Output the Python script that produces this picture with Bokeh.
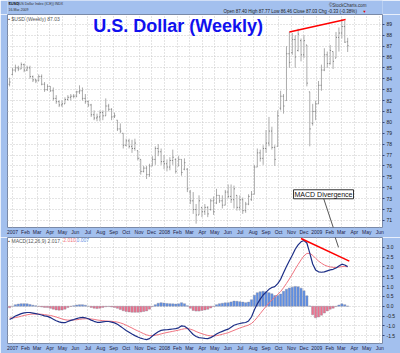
import pandas as pd
from bokeh.plotting import figure
from bokeh.layouts import column
from bokeh.models import Range1d, FixedTicker, CustomJSTickFormatter, Label, PrintfTickFormatter
from bokeh.embed import file_html
from bokeh.resources import INLINE

# ------------------------------------------------------------------ data
first_week = "2006-12-25"   # weekly bars, one per week

opens = [83.5, 84.4, 84.8, 85.0, 84.9, 85.3, 84.8, 85.0, 84.2, 83.9,
         83.8, 84.2, 83.5, 83.0, 83.3, 82.9, 82.2, 81.9, 81.6, 81.7,
         82.1, 82.3, 82.4, 82.4, 82.8, 82.9, 82.2, 81.9, 81.6, 80.7,
         80.4, 80.5, 80.9, 80.6, 81.5, 81.2, 80.5, 80.2, 79.4, 79.0,
         77.9, 78.3, 77.8, 77.6, 77.4, 76.6, 75.5, 75.8, 75.2, 76.0,
         76.6, 77.6, 77.3, 76.4, 76.2, 75.9, 76.5, 76.6, 76.0, 76.6,
         75.7, 75.7, 73.6, 72.8, 72.0, 71.5, 72.2, 71.8, 72.2, 72.0,
         72.8, 72.6, 73.3, 72.8, 72.4, 73.6, 73.2, 72.9, 73.3, 72.2,
         72.9, 71.9, 72.5, 72.9, 73.4, 75.9, 77.2, 76.7, 77.6, 78.1,
         79.2, 77.7, 77.8, 81.3, 82.4, 82.0, 86.3, 86.4, 87.6, 86.6,
         87.5, 86.2, 87.1, 82.8, 79.9, 81.0, 81.7, 83.4, 84.8, 86.2,
         85.4, 86.5, 85.9, 87.8, 88.2, 88.8, 87.40]
highs = [84.1, 85.0, 85.3, 85.2, 85.5, 85.4, 85.2, 85.2, 84.3, 84.0,
         84.4, 84.4, 83.7, 83.5, 83.3, 83.2, 82.5, 82.0, 82.0, 82.3,
         82.5, 82.6, 82.6, 82.9, 83.4, 83.2, 82.6, 82.0, 81.7, 81.1,
         80.8, 81.1, 81.1, 82.2, 81.7, 81.3, 80.9, 80.2, 79.9, 79.0,
         78.5, 78.5, 78.4, 78.5, 77.4, 76.6, 76.0, 76.0, 76.2, 76.9,
         77.8, 78.0, 77.6, 77.0, 76.6, 76.8, 77.5, 76.7, 76.9, 76.6,
         76.7, 75.8, 73.8, 73.6, 72.5, 73.3, 72.2, 72.5, 72.3, 73.0,
         73.2, 73.9, 73.3, 73.3, 73.8, 74.3, 74.3, 74.2, 73.3, 73.3,
         73.1, 72.7, 73.4, 73.7, 76.1, 77.6, 77.5, 77.9, 79.3, 80.5,
         79.6, 77.9, 81.1, 82.9, 82.6, 87.0, 88.3, 88.2, 88.0, 88.6,
         87.7, 88.0, 87.1, 82.8, 81.7, 82.0, 83.8, 85.3, 86.8, 86.5,
         87.1, 86.5, 88.3, 88.7, 89.5, 89.3, 87.77]
lows = [83.3, 84.3, 84.6, 84.7, 84.9, 84.6, 84.7, 84.0, 83.7, 83.6,
        83.8, 83.4, 82.8, 82.9, 82.8, 82.0, 81.7, 81.4, 81.4, 81.7,
        82.0, 82.0, 82.2, 82.3, 82.6, 82.0, 81.7, 81.4, 80.5, 80.2,
        80.1, 80.1, 80.2, 80.6, 81.0, 80.2, 80.4, 79.2, 79.0, 77.6,
        77.8, 77.6, 77.2, 77.4, 76.5, 75.2, 75.4, 74.8, 75.0, 76.0,
        76.1, 76.9, 76.1, 75.7, 75.5, 75.6, 76.1, 75.3, 76.0, 75.1,
        75.6, 73.6, 72.5, 71.6, 70.7, 71.5, 71.3, 71.5, 71.3, 71.9,
        71.5, 72.5, 72.6, 72.1, 72.4, 73.0, 72.6, 72.1, 71.9, 71.9,
        71.6, 71.7, 72.4, 72.8, 73.4, 75.9, 76.4, 76.1, 77.2, 77.8,
        77.5, 76.0, 77.8, 81.1, 80.8, 82.0, 85.0, 86.2, 85.0, 86.5,
        85.6, 85.9, 83.3, 77.8, 79.7, 80.2, 81.7, 82.9, 84.7, 85.0,
        85.3, 84.9, 85.9, 86.5, 87.7, 87.3, 86.46]
closes = [83.7, 84.8, 85.0, 84.9, 85.3, 84.8, 85.0, 84.2, 83.9, 83.8,
          84.2, 83.5, 83.0, 83.3, 82.9, 82.2, 81.9, 81.6, 81.7, 82.1,
          82.3, 82.4, 82.4, 82.8, 82.9, 82.2, 81.9, 81.6, 80.7, 80.4,
          80.5, 80.9, 80.6, 81.5, 81.2, 80.5, 80.6, 79.4, 79.2, 77.9,
          78.3, 77.8, 77.6, 78.1, 76.7, 75.5, 75.8, 75.2, 76.0, 76.6,
          77.6, 77.3, 76.4, 76.2, 75.9, 76.5, 76.8, 75.5, 76.6, 75.4,
          76.3, 73.9, 72.8, 72.0, 71.5, 72.8, 71.8, 72.2, 71.6, 72.8,
          71.8, 73.3, 72.8, 72.4, 73.6, 73.2, 72.9, 73.9, 72.2, 72.9,
          71.9, 72.5, 73.2, 73.4, 75.9, 77.2, 76.7, 77.6, 78.1, 79.2,
          77.7, 76.6, 80.6, 82.4, 81.5, 86.3, 85.5, 87.6, 86.0, 88.1,
          86.2, 87.5, 83.6, 79.4, 81.0, 81.7, 83.4, 84.8, 86.2, 85.4,
          86.6, 85.6, 87.8, 88.2, 88.8, 87.36, 87.03]

macd = [-0.68, -0.60, -0.50, -0.44, -0.38, -0.34, -0.32, -0.32, -0.35, -0.38,
        -0.41, -0.45, -0.49, -0.52, -0.58, -0.66, -0.74, -0.80, -0.84, -0.84,
        -0.78, -0.72, -0.68, -0.63, -0.59, -0.57, -0.59, -0.64, -0.71, -0.77,
        -0.82, -0.82, -0.80, -0.78, -0.78, -0.81, -0.85, -0.92, -1.02, -1.13,
        -1.24, -1.33, -1.42, -1.50, -1.57, -1.63, -1.67, -1.70, -1.65, -1.52,
        -1.40, -1.30, -1.23, -1.21, -1.20, -1.18, -1.16, -1.14, -1.10, -1.00,
        -1.02, -1.12, -1.28, -1.44, -1.54, -1.60, -1.62, -1.64, -1.65, -1.60,
        -1.52, -1.42, -1.34, -1.28, -1.22, -1.17, -1.07, -0.97, -0.92, -0.88,
        -0.85, -0.83, -0.75, -0.55, -0.18, 0.12, 0.36, 0.57, 0.72, 0.86,
        0.95, 1.00, 1.15, 1.37, 1.70, 2.02, 2.32, 2.60, 2.90, 3.12,
        3.28, 3.35, 3.22, 2.70, 2.15, 1.85, 1.75, 1.73, 1.75, 1.80,
        1.85, 1.88, 1.95, 2.05, 2.14, 2.10, 2.017]
signal = [-0.60, -0.60, -0.58, -0.55, -0.51, -0.47, -0.44, -0.41, -0.40, -0.40,
          -0.40, -0.41, -0.43, -0.45, -0.47, -0.51, -0.55, -0.60, -0.65, -0.69,
          -0.71, -0.71, -0.70, -0.69, -0.67, -0.65, -0.64, -0.64, -0.65, -0.67,
          -0.70, -0.72, -0.74, -0.75, -0.76, -0.77, -0.79, -0.81, -0.85, -0.90,
          -0.97, -1.04, -1.11, -1.19, -1.26, -1.33, -1.40, -1.46, -1.50, -1.50,
          -1.48, -1.45, -1.41, -1.37, -1.34, -1.31, -1.28, -1.25, -1.22, -1.18,
          -1.15, -1.14, -1.17, -1.22, -1.29, -1.35, -1.40, -1.45, -1.49, -1.51,
          -1.51, -1.50, -1.47, -1.43, -1.39, -1.35, -1.29, -1.23, -1.17, -1.11,
          -1.06, -1.01, -0.96, -0.88, -0.74, -0.57, -0.38, -0.19, -0.01, 0.17,
          0.32, 0.46, 0.60, 0.75, 0.94, 1.16, 1.39, 1.63, 1.89, 2.13,
          2.36, 2.56, 2.69, 2.69, 2.59, 2.44, 2.30, 2.19, 2.10, 2.04,
          2.00, 1.98, 1.97, 1.99, 2.02, 2.02, 2.010]
hist = [-0.08, 0.00, 0.08, 0.11, 0.13, 0.13, 0.12, 0.09, 0.05, 0.02,
        -0.01, -0.04, -0.06, -0.07, -0.11, -0.15, -0.19, -0.20, -0.19, -0.15,
        -0.07, -0.01, 0.02, 0.06, 0.08, 0.08, 0.05, 0.00, -0.06, -0.10,
        -0.12, -0.10, -0.06, -0.03, -0.02, -0.04, -0.06, -0.11, -0.17, -0.23,
        -0.27, -0.29, -0.31, -0.31, -0.31, -0.30, -0.27, -0.24, -0.15, -0.02,
        0.08, 0.15, 0.18, 0.16, 0.14, 0.13, 0.12, 0.11, 0.12, 0.18,
        0.13, 0.02, -0.11, -0.22, -0.25, -0.25, -0.22, -0.19, -0.16, -0.09,
        -0.01, 0.08, 0.13, 0.15, 0.17, 0.18, 0.22, 0.26, 0.25, 0.23,
        0.21, 0.18, 0.21, 0.33, 0.56, 0.69, 0.74, 0.76, 0.73, 0.69,
        0.63, 0.54, 0.55, 0.62, 0.76, 0.86, 0.93, 0.97, 1.01, 0.99,
        0.92, 0.79, 0.53, 0.01, -0.44, -0.59, -0.55, -0.46, -0.35, -0.24,
        -0.15, -0.10, -0.02, 0.06, 0.12, 0.08, 0.007]

price_ticks = [71, 72, 73, 74, 75, 76, 77, 78, 79, 80,
               81, 82, 83, 84, 85, 86, 87, 88, 89]
macd_ticks = [-1.5, -1.0, -0.5, 0.0, 0.5, 1.0, 1.5, 2.0, 2.5, 3.0]
month_names = ["Jan", "Feb", "Mar", "Apr", "May", "Jun",
               "Jul", "Aug", "Sep", "Oct", "Nov", "Dec"]

div_price_dates = ["2008-10-27", "2009-03-11"]
div_price_vals = [88.3, 89.45]
div_macd_dates = ["2008-11-24", "2009-03-20"]
div_macd_vals = [3.45, 2.30]

annot_text = "MACD Divergence"
annot_date = "2008-11-06"
annot_price = 73.4
annot_line_dates = ["2009-01-17", "2009-02-22"]
annot_line_price = [73.05, 68.9]
annot_line_macd = [5.3, 3.0]

symbol = "$USD"
symbol_name = "(US Dollar Index (ICE)) INDX"
as_of = "16-Mar-2009"
chart_title = "U.S. Dollar (Weekly)"

# ------------------------------------------------------------------ style
BG = "#a3c0ee"
F = "Liberation Sans"
GRID = "#c8c8c8"
AXTXT = "#222244"

dates = pd.date_range(first_week, periods=len(closes), freq="7D")
half = pd.Timedelta(days=2.2)
month_ticks = [int(d.value // 10**6)
               for d in pd.date_range("2007-01-01", "2009-06-01", freq="MS")]
xr = Range1d(start=pd.Timestamp("2006-12-20"), end=pd.Timestamp("2009-06-07 16:00"))

fmt = CustomJSTickFormatter(args=dict(names=month_names), code="""
const d = new Date(tick);
const m = d.getUTCMonth();
return m == 0 ? String(d.getUTCFullYear()) : names[m];
""")


def style(p, yticks):
    p.xgrid.ticker = FixedTicker(ticks=month_ticks)
    p.ygrid.ticker = FixedTicker(ticks=yticks)
    for g in (p.xgrid, p.ygrid):
        g.grid_line_color = GRID
        g.grid_line_dash = "1 2"
    ax = p.xaxis[0]
    ax.ticker = FixedTicker(ticks=month_ticks)
    ax.formatter = fmt
    ax.major_tick_line_color = None
    ax.minor_tick_line_color = None
    ax.axis_line_color = None
    ax.major_tick_out = 0
    ax.major_label_standoff = 1
    ax.major_label_text_font = F
    ax.major_label_text_font_size = "5px"
    ax.major_label_text_color = AXTXT
    ay = p.yaxis[0]
    ay.ticker = FixedTicker(ticks=yticks)
    ay.axis_line_color = None
    ay.minor_tick_line_color = None
    ay.major_tick_line_color = "#334477"
    ay.major_tick_out = 2
    ay.major_tick_in = 0
    ay.major_label_standoff = 2
    ay.major_label_text_font = F
    ay.major_label_text_font_size = "5px"
    ay.major_label_text_color = "#222222"
    p.outline_line_color = "#7a8aa8"


# ---- header strip
ph = figure(width=400, height=14, x_range=Range1d(0, 400), y_range=Range1d(14, 0),
            output_backend="svg", toolbar_location=None, min_border=0,
            background_fill_color=BG, border_fill_color=BG, outline_line_color=None)
ph.axis.visible = False
ph.grid.visible = False
ph.add_layout(Label(x=1, y=3, text=symbol, text_font=F, text_font_style="bold",
                    text_font_size="4px", text_baseline="middle", text_color="#111111"))
ph.add_layout(Label(x=11, y=3, text=symbol_name, text_font=F,
                    text_font_size="3.5px", text_baseline="middle", text_color="#333333"))
ph.add_layout(Label(x=1, y=9.5, text=as_of, text_font=F,
                    text_font_size="3.5px", text_baseline="middle", text_color="#333333"))
ph.add_layout(Label(x=383, y=5, text="\u00a9StockCharts.com", text_font=F,
                    text_font_size="4.5px", text_align="right", text_baseline="middle",
                    text_color="#333333"))
chg = closes[-1] - closes[-2]
ohlc_text = ("Open %.2f  High %.2f  Low %.2f  Close %.2f  Chg %.2f (%.2f%%)"
             % (opens[-1], highs[-1], lows[-1], closes[-1], chg, chg / closes[-2] * 100))
ph.add_layout(Label(x=378, y=11.3, text=ohlc_text, text_font=F,
                    text_font_size="4.5px", text_align="right", text_baseline="middle",
                    text_color="#222222"))
ph.add_layout(Label(x=383, y=11.3, text="\u25bc", text_font=F,
                    text_font_size="4px", text_align="right", text_baseline="middle",
                    text_color="#dd0000"))

# ---- price panel
p1 = figure(width=400, height=223, x_range=xr, y_range=Range1d(70.35, 89.9),
            x_axis_type="datetime", y_axis_location="right",
            output_backend="svg", toolbar_location=None,
            min_border_left=7, min_border_right=18, min_border_top=0, min_border_bottom=6,
            background_fill_color="white", border_fill_color=BG)
style(p1, price_ticks)
p1.segment(x0=dates, y0=lows, x1=dates, y1=highs, line_color="#acacac", line_width=1)
p1.segment(x0=dates - half, y0=opens, x1=dates, y1=opens, line_color="#7a7a7a", line_width=1)
p1.segment(x0=dates, y0=closes, x1=dates + half, y1=closes, line_color="#7a7a7a", line_width=1)
p1.line(x=pd.to_datetime(div_price_dates), y=div_price_vals, line_color="#ff0000", line_width=1.5)
p1.line(x=pd.to_datetime(annot_line_dates), y=annot_line_price, line_color="#555555", line_width=1)
p1.add_layout(Label(x=pd.Timestamp("2006-12-22"), y=89.75, text="\u25aa %s (Weekly) %.2f" % (symbol, closes[-1]),
                    text_font=F, text_font_size="5px", text_baseline="top", text_color="#555555"))
p1.add_layout(Label(x=pd.Timestamp("2007-07-14"), y=87.9, text=chart_title, text_font=F,
                    text_font_style="bold", text_font_size="18px", text_color="#1010ee"))
p1.add_layout(Label(x=pd.Timestamp(annot_date), y=annot_price, text=annot_text, text_font=F,
                    text_font_size="7px", text_baseline="middle", text_color="#111111",
                    background_fill_color="white", border_line_color="#333333",
                    padding=1))

# ---- MACD panel
p2 = figure(width=400, height=116, x_range=xr, y_range=Range1d(-1.9, 3.5),
            x_axis_type="datetime", y_axis_location="right",
            output_backend="svg", toolbar_location=None,
            min_border_left=7, min_border_right=18, min_border_top=0, min_border_bottom=8,
            background_fill_color="white", border_fill_color=BG)
style(p2, macd_ticks)
p2.yaxis[0].formatter = PrintfTickFormatter(format="%.1f")
bar_colors = ["#5d8fe6" if h >= 0 else "#f0708c" for h in hist]
p2.vbar(x=dates, top=hist, bottom=0, width=5.5 * 86400000, fill_color=bar_colors,
        line_color="#8c8c9c", line_width=0.4)
p2.line(x=dates, y=signal, line_color="#f07480", line_width=1)
p2.line(x=dates, y=macd, line_color="#1c2e86", line_width=1.2)
p2.line(x=pd.to_datetime(div_macd_dates), y=div_macd_vals, line_color="#ff0000", line_width=1.5)
p2.line(x=pd.to_datetime(annot_line_dates), y=annot_line_macd, line_color="#555555", line_width=1)
p2.add_layout(Label(x=pd.Timestamp("2006-12-22"), y=3.45,
                    text="\u25aa MACD(12,26,9) %.3f," % macd[-1],
                    text_font=F, text_font_size="5px", text_baseline="top", text_color="#555555"))
p2.add_layout(Label(x=pd.Timestamp("2007-05-03"), y=3.45, text="%.3f," % signal[-1],
                    text_font=F, text_font_size="5px", text_baseline="top", text_color="#f07480"))
p2.add_layout(Label(x=pd.Timestamp("2007-06-04"), y=3.45, text="%.3f" % hist[-1],
                    text_font=F, text_font_size="5px", text_baseline="top", text_color="#5d8fe6"))

layout = column(ph, p1, p2)
open("out.html", "w").write(file_html(layout, INLINE))
